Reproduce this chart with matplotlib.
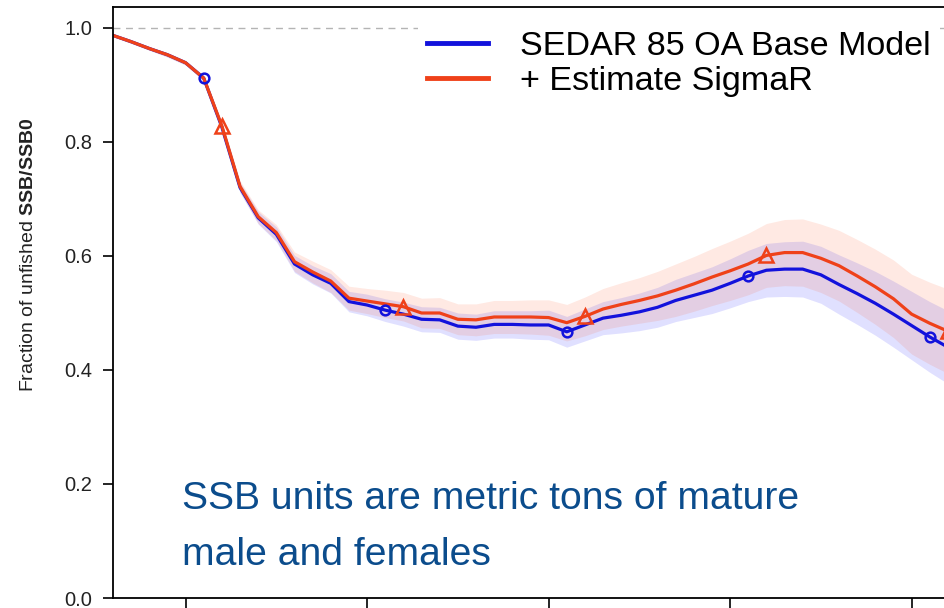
import matplotlib
matplotlib.use("Agg")
import matplotlib.pyplot as plt
from matplotlib.lines import Line2D
import numpy as np

plt.rcParams['font.family'] = ['Liberation Sans', 'DejaVu Sans']
plt.rcParams['mathtext.fontset'] = 'custom'
plt.rcParams['mathtext.rm'] = 'Liberation Sans'
plt.rcParams['mathtext.bf'] = 'Liberation Sans:bold'

# spawning stock biomass relative to unfished, by year
years = list(range(1976, 2023))

base_ssb = [0.987, 0.976, 0.964, 0.953, 0.939, 0.912, 0.826, 0.720, 0.667, 0.638,
            0.586, 0.567, 0.552, 0.520, 0.514, 0.505, 0.498, 0.489, 0.488, 0.477,
            0.475, 0.480, 0.480, 0.479, 0.479, 0.467, 0.479, 0.491, 0.496, 0.502,
            0.510, 0.522, 0.531, 0.540, 0.552, 0.565, 0.575, 0.577, 0.577, 0.567,
            0.550, 0.534, 0.517, 0.498, 0.478, 0.458, 0.440]

sigr_ssb = [0.987, 0.976, 0.964, 0.953, 0.939, 0.912, 0.828, 0.722, 0.669, 0.641,
            0.590, 0.572, 0.556, 0.526, 0.521, 0.516, 0.511, 0.500, 0.500, 0.489,
            0.488, 0.493, 0.493, 0.493, 0.492, 0.483, 0.494, 0.507, 0.515, 0.522,
            0.530, 0.540, 0.551, 0.563, 0.574, 0.586, 0.601, 0.606, 0.606, 0.596,
            0.583, 0.565, 0.546, 0.525, 0.498, 0.482, 0.468]

# 95% interval half widths
base_ci = [0.002, 0.003, 0.003, 0.004, 0.004, 0.005, 0.006, 0.009, 0.011, 0.013,
           0.015, 0.016, 0.017, 0.018, 0.019, 0.020, 0.021, 0.022, 0.022, 0.023,
           0.023, 0.024, 0.024, 0.025, 0.026, 0.027, 0.028, 0.029, 0.031, 0.033,
           0.035, 0.037, 0.039, 0.041, 0.043, 0.045, 0.047, 0.048, 0.049, 0.050,
           0.052, 0.054, 0.056, 0.058, 0.060, 0.062, 0.064]

sigr_ci = [0.002, 0.003, 0.003, 0.004, 0.004, 0.005, 0.007, 0.010, 0.012, 0.014,
           0.017, 0.019, 0.020, 0.021, 0.022, 0.024, 0.025, 0.026, 0.027, 0.027,
           0.028, 0.029, 0.029, 0.030, 0.031, 0.032, 0.034, 0.036, 0.038, 0.040,
           0.043, 0.046, 0.048, 0.050, 0.052, 0.054, 0.056, 0.058, 0.059, 0.060,
           0.062, 0.064, 0.066, 0.068, 0.070, 0.072, 0.074]

base_pts = [1981, 1991, 2001, 2011, 2021]
sigr_pts = [1982, 1992, 2002, 2012, 2022]

labels = ["SEDAR 85 OA Base Model", "+ Estimate SigmaR"]
col_base = '#1212dc'
col_sigr = '#ef4119'

W, H = 945, 608
fig = plt.figure(figsize=(W / 100, H / 100), dpi=100)
# plot region runs off the right edge of the figure
ax_l, ax_r, ax_t, ax_b = 113, 1000, 7, 598
ax = fig.add_axes([ax_l / W, 1 - ax_b / H, (ax_r - ax_l) / W, (ax_b - ax_t) / H])

px_per_year = 18.15
ax.set_xlim(years[0], years[0] + (ax_r - ax_l) / px_per_year)
ax.set_ylim(0, (ax_b - ax_t) / 570)

yr = np.array(years)
b = np.array(base_ssb)
s = np.array(sigr_ssb)
ax.fill_between(yr, b - np.array(base_ci), b + np.array(base_ci),
                color=(0.0, 0.0, 1.0), alpha=0.12, lw=0)
ax.fill_between(yr, s - np.array(sigr_ci), s + np.array(sigr_ci),
                color=(1.0, 0.3, 0.1), alpha=0.12, lw=0)

ax.axhline(1.0, color='#b4b4b4', lw=1, ls=(0, (5, 4)))

ax.plot(yr, b, color=col_base, lw=2.3)
ax.plot(yr, s, color=col_sigr, lw=2.3)

bi = [years.index(y) for y in base_pts]
si = [years.index(y) for y in sigr_pts]
ax.plot(yr[bi], b[bi], 'o', ms=7, mfc='none', mec=col_base, mew=1.8)
ax.plot(yr[si], s[si], '^', ms=9.5, mfc='none', mec=col_sigr, mew=1.8)

ax.spines['right'].set_visible(False)
for sp in ['top', 'left', 'bottom']:
    ax.spines[sp].set_linewidth(1.3)

ax.set_xticks([1980, 1990, 2000, 2010, 2020])
ax.tick_params(axis='x', direction='out', length=12, width=1.2, labelbottom=False)
ax.set_yticks([0.0, 0.2, 0.4, 0.6, 0.8, 1.0])
ax.set_yticklabels(['0.0', '0.2', '0.4', '0.6', '0.8', '1.0'])
ax.tick_params(axis='y', direction='out', length=7, width=1.2, labelsize=14.5, pad=8,
               labelcolor='#222222')

fig.text(29 / W, 1 - 255 / H, r"Fraction of unfished $\mathbf{SSB/SSB0}$",
         rotation=90, ha='center', va='center', fontsize=14, color='#222222')

handles = [Line2D([], [], color=col_base, lw=3.5),
           Line2D([], [], color=col_sigr, lw=3.5)]
leg = fig.legend(handles, labels, loc='upper left', bbox_to_anchor=(418 / W, 1 - 22 / H),
                 fontsize=24.6, frameon=True, framealpha=1, edgecolor='none',
                 fancybox=False, handlelength=1.8, handletextpad=0.95,
                 labelspacing=0.12, borderpad=0.25, borderaxespad=0)

fig.text(182 / W, 1 - 481 / H, "SSB units are metric tons of mature\nmale and females",
         ha='left', va='top', fontsize=28.2, color='#0b4c8c', linespacing=1.72)

fig.savefig("out.png", dpi=100)
